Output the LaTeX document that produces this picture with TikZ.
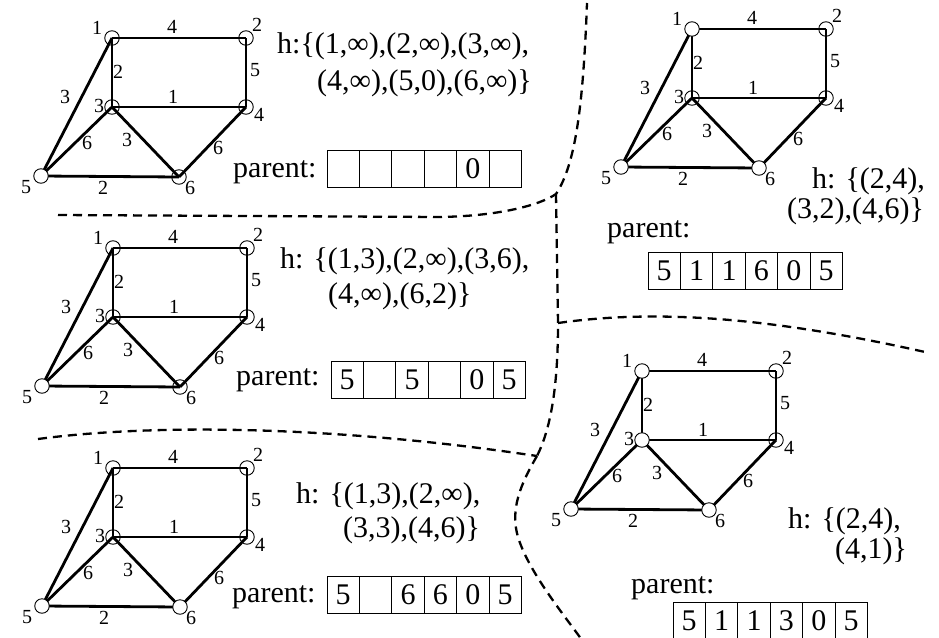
\documentclass[tikz,border=0pt]{standalone}
\usepackage{fontspec}
\setmainfont{Liberation Serif}
\pgfdeclarelayer{bg}
\pgfsetlayers{bg,main}
\tikzset{
 gnode/.style={circle,draw,line width=0.9pt,minimum size=14.5pt,inner sep=0pt},
 vis/.style={fill=white},
 edge/.style={line width=2.8pt},
 nlab/.style={font=\fontsize{20}{22}\selectfont,inner sep=0pt},
 big/.style={font=\fontsize{30}{33}\selectfont,inner sep=0pt,anchor=base west},
 cell/.style={draw,line width=0.8pt,minimum width=32.4pt,minimum height=37pt,inner sep=0pt,font=\fontsize{30}{33}\selectfont},
 sepline/.style={line width=2.3pt,dash pattern=on 9pt off 6pt},
}
\newcommand\Panel[9]{%
\begin{scope}[shift={(#2,#3)}]
 \node[gnode,#4] (#1n1) at (0,0) {};
 \node[gnode,#5] (#1n2) at (134,0) {};
 \node[gnode,#6] (#1n3) at (0,69) {};
 \node[gnode,#7] (#1n4) at (134,69) {};
 \node[gnode,#8] (#1n5) at (-71,138) {};
 \node[gnode,#9] (#1n6) at (67,139) {};
 \begin{pgfonlayer}{bg}
 \draw[edge] (#1n1.center) -- (#1n2.center);
 \draw[edge] (#1n1.center) -- (#1n3.center);
 \draw[edge] (#1n2.center) -- (#1n4.center);
 \draw[edge] (#1n3.center) -- (#1n4.center);
 \draw[edge] (#1n1.center) -- (#1n5.center);
 \draw[edge] (#1n3.center) -- (#1n5.center);
 \draw[edge] (#1n3.center) -- (#1n6.center);
 \draw[edge] (#1n4.center) -- (#1n6.center);
 \draw[edge] (#1n5.center) -- (#1n6.center);
 \end{pgfonlayer}
 \node[nlab] (#1l1) at (-15,-10) {1};
 \node[nlab] (#1l2) at (145,-13) {2};
 \node[nlab] (#1l3) at (-13,68) {3};
 \node[nlab] (#1l4) at (147,77) {4};
 \node[nlab] (#1l5) at (-86,149) {5};
 \node[nlab] (#1l6) at (78,150) {6};
 \node[nlab] (#1w12) at (60,-11) {4};
 \node[nlab] (#1w13) at (6,34) {2};
 \node[nlab] (#1w24) at (143,32) {5};
 \node[nlab] (#1w34) at (61,59) {1};
 \node[nlab] (#1w15) at (-47,59) {3};
 \node[nlab] (#1w35) at (-25,105) {6};
 \node[nlab] (#1w36) at (15,102) {3};
 \node[nlab] (#1w46) at (106,110) {6};
 \node[nlab] (#1w56) at (-9,150) {2};
\end{scope}}
\newcommand\Cells[9]{%
 \node[cell] (#1c1) at (#2+16.2,#3) {#4};
 \node[cell] (#1c2) at (#2+48.6,#3) {#5};
 \node[cell] (#1c3) at (#2+81.0,#3) {#6};
 \node[cell] (#1c4) at (#2+113.4,#3) {#7};
 \node[cell] (#1c5) at (#2+145.8,#3) {#8};
 \node[cell] (#1c6) at (#2+178.2,#3) {#9};}
\begin{document}
\begin{tikzpicture}[x=1pt,y=-1pt]
\useasboundingbox (0,0) rectangle (939,637);
% panels
\Panel{pa}{112}{38}{}{}{}{}{vis}{}
\Panel{pb}{692}{29}{vis}{}{}{}{vis}{vis}
\Panel{pc}{113}{248}{}{}{}{}{vis}{}
\Panel{pd}{113}{468}{}{}{}{}{vis}{vis}
\Panel{pe}{642}{371}{vis}{}{vis}{}{vis}{vis}
% texts panel a
\node[big] (ha1) at (277,53) {h:\{(1,∞),(2,∞),(3,∞),};
\node[big] (ha2) at (317,90) {(4,∞),(5,0),(6,∞)\}};
\node[big] (para) at (233,177) {parent:};
\Cells{ca}{327}{168.5}{}{}{}{}{0}{}
% panel b
\node[big] (hb1) at (812,188) {h: \{(2,4),};
\node[big] (hb2) at (787,218) {(3,2),(4,6)\}};
\node[big] (parb) at (607,237) {parent:};
\Cells{cb}{648}{270.5}{5}{1}{1}{6}{0}{5}
% panel c
\node[big] (hc1) at (280,268) {h: \{(1,3),(2,∞),(3,6),};
\node[big] (hc2) at (328,303) {(4,∞),(6,2)\}};
\node[big] (parc) at (236,385) {parent:};
\Cells{cc}{331}{380}{5}{}{5}{}{0}{5}
% panel d
\node[big] (hd1) at (296,503) {h: \{(1,3),(2,∞),};
\node[big] (hd2) at (343,537) {(3,3),(4,6)\}};
\node[big] (pard) at (232,602) {parent:};
\Cells{cd}{327}{594.5}{5}{}{6}{6}{0}{5}
% panel e
\node[big] (he1) at (788,528) {h: \{(2,4),};
\node[big] (he2) at (835,558) {(4,1)\}};
\node[big] (pare) at (631,593) {parent:};
\Cells{ce}{673}{620.5}{5}{1}{1}{3}{0}{5}
% separators
\coordinate (s1) at (58,215);
\coordinate (s2) at (440,217);
\coordinate (s3) at (556,194);
\coordinate (s4) at (587,3);
\coordinate (s5) at (558,323);
\coordinate (s6) at (537,456);
\coordinate (s7) at (582,640);
\coordinate (s8) at (38,439);
\coordinate (s9) at (925,352);
\draw[sepline] (s1) -- (s2) .. controls (500,216) and (540,205) .. (s3) .. controls (575,165) and (583,110) .. (s4);
\draw[sepline] (s3) -- (s5) .. controls (558,390) and (550,430) .. (s6);
\draw[sepline] (s6) .. controls (520,485) and (510,510) .. (518,537) .. controls (528,570) and (560,610) .. (s7);
\draw[sepline] (s8) .. controls (150,424) and (330,425) .. (s6);
\draw[sepline] (s5) .. controls (650,310) and (760,315) .. (s9);
\end{tikzpicture}
\end{document}
